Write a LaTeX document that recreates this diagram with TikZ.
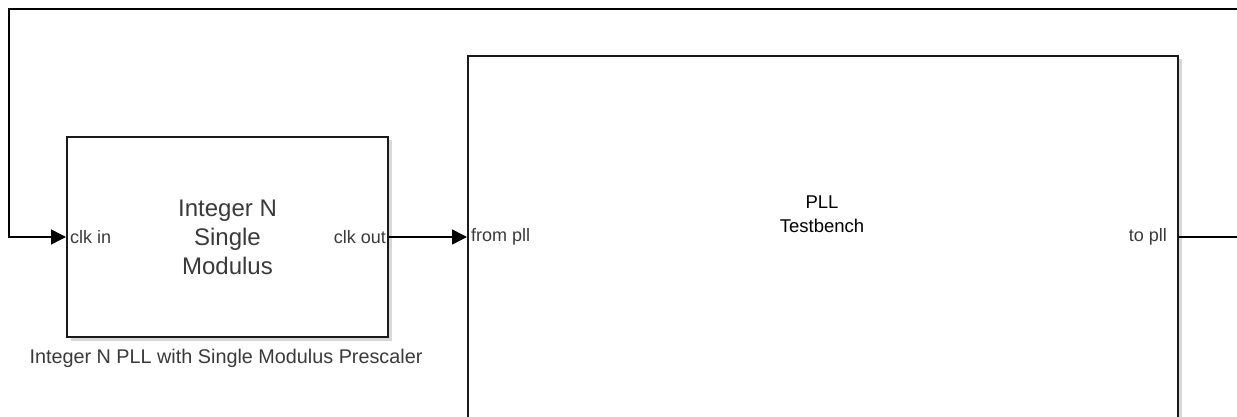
\documentclass[tikz,border=0pt]{standalone}
\usepackage{fontspec}
\setmainfont{Liberation Sans}
\usetikzlibrary{arrows.meta,shadows,calc}
\definecolor{txtgray}{HTML}{3A3A3A}
\definecolor{linegray}{HTML}{1A1A1A}
\tikzset{
  blockbox/.style={draw=linegray, line width=2pt, fill=white, inner sep=0pt,
    drop shadow={opacity=0.3, shadow xshift=3.5pt, shadow yshift=-3.5pt}},
  wire/.style={draw=black, line width=1.5pt},
  arrowwire/.style={wire, -{Triangle[length=15pt,width=15pt]}},
  portlabel/.style={font=\fontsize{18}{20}\selectfont, text=txtgray, inner sep=0pt},
}
\begin{document}
\begin{tikzpicture}[x=1pt,y=-1pt]
\useasboundingbox (0,0) rectangle (1237,417);
\clip (0,0) rectangle (1237,417);
\fill[white] (0,0) rectangle (1237,417);
% left block
\node[blockbox, minimum width=321pt, minimum height=200pt] (lb) at (227.5,237) {};
\node[font=\fontsize{24}{29}\selectfont, text=txtgray, align=center] (lbt) at (227.5,237) {Integer N\\Single\\Modulus};
\node[font=\fontsize{19.8}{22}\selectfont, text=txtgray] (cap) at (226,358) {Integer N PLL with Single Modulus Prescaler};
% right block
\node[blockbox, minimum width=710pt, minimum height=400pt, anchor=north west] (tb) at (467,55) {};
\node[font=\fontsize{18.5}{24}\selectfont, text=black, align=center] (tbt) at (822,214) {PLL\\Testbench};
% ports
\coordinate (lbin) at (lb.west);
\coordinate (lbout) at (lb.east);
\coordinate (tbin) at (tb.west |- lb.east);
\coordinate (tbout) at (tb.east |- lb.east);
\node[portlabel, anchor=west] (l1) at ($(lbin)+(4,0)$) {clk in};
\node[portlabel, anchor=east] (l2) at ($(lbout)+(-3,0)$) {clk out};
\node[portlabel, anchor=west] (l3) at ($(tbin)+(4,0)$) {from pll};
\node[portlabel, anchor=east] (l4) at ($(tbout)+(-12,0)$) {to pll};
% wires
\coordinate (topright) at (1240,9);
\coordinate (topleft) at (9,9);
\coordinate (botleft) at (topleft |- lbin);
\coordinate (rightend) at (topright |- tbout);
\draw[arrowwire] (topright) -- (topleft) -- (botleft) -- (lbin);
\draw[arrowwire] (lbout) -- (tbin);
\draw[wire] (tbout) -- (rightend);
\end{tikzpicture}
\end{document}
